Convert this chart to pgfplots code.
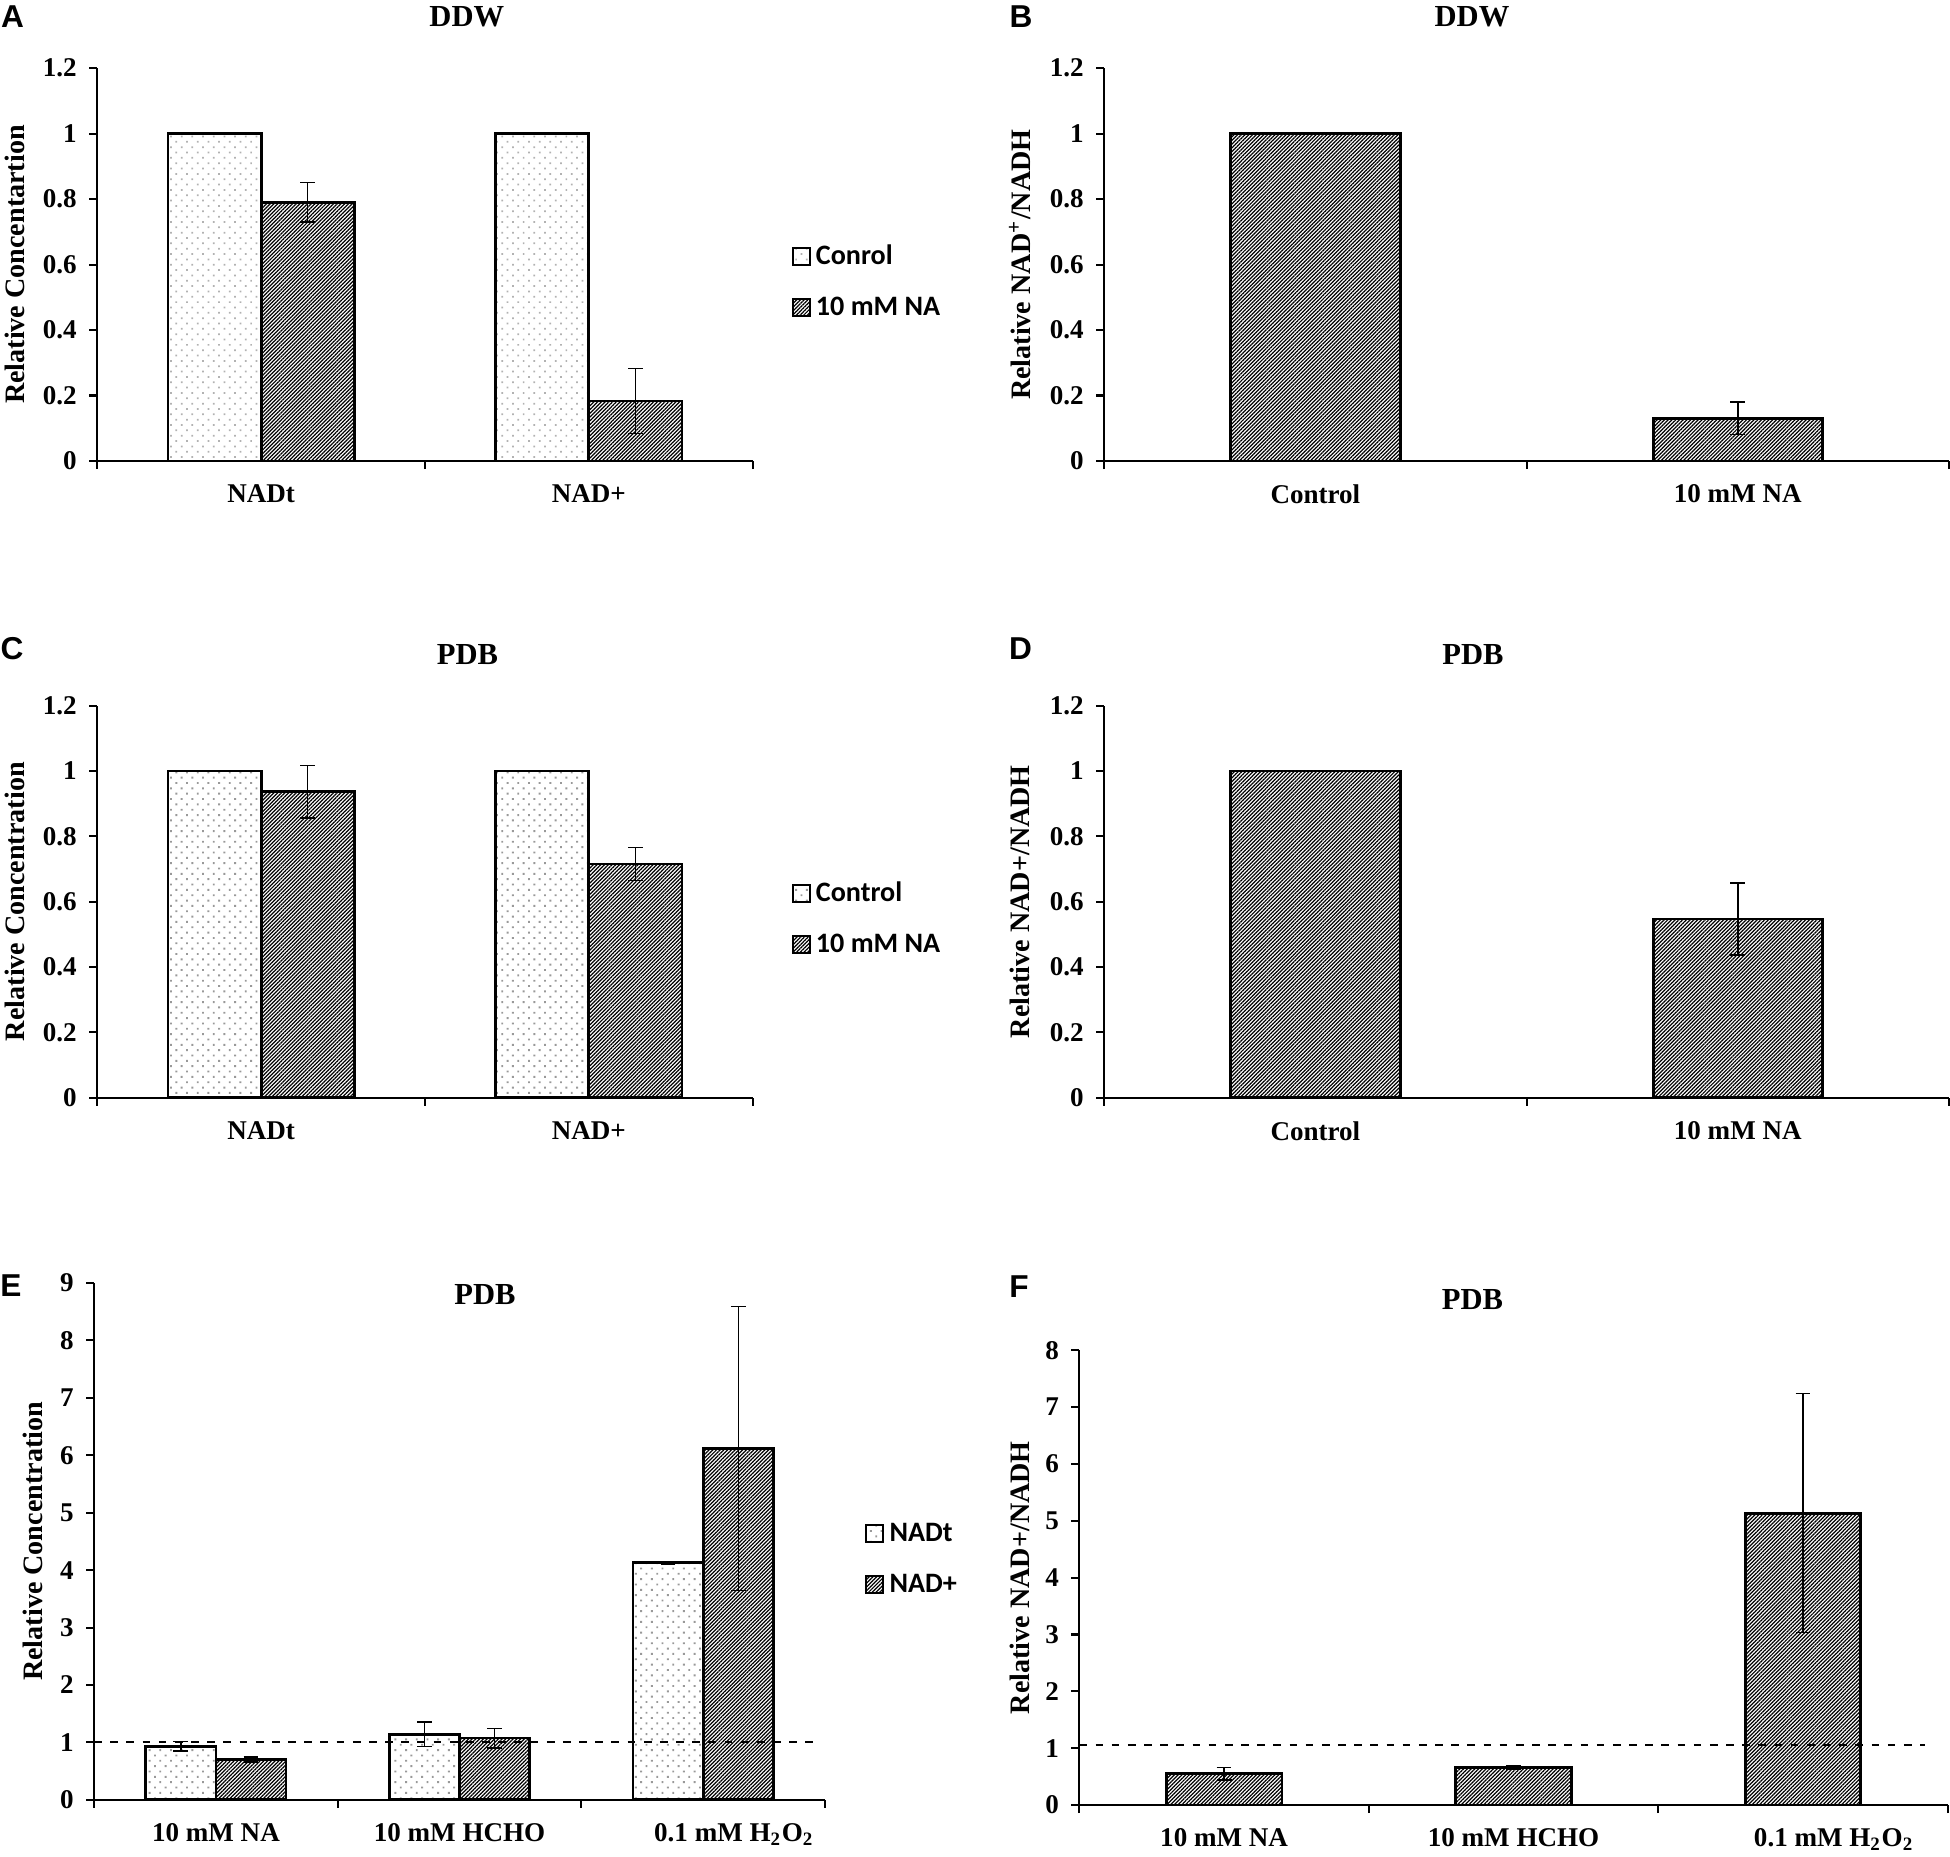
\documentclass[border=0pt]{standalone}
\usepackage{pgfplots}
\pgfplotsset{compat=1.18}
\usetikzlibrary{patterns.meta}
\usepackage{fontspec}
\setmainfont{Liberation Serif}
\newfontfamily\legfont{Carlito}
\newfontfamily\letfont{Liberation Sans}
\newcommand\tk{\bfseries\fontsize{7.7}{9}\selectfont}
\newcommand\ttl{\bfseries\fontsize{8.7}{10}\selectfont}
\newcommand\ylb{\bfseries\fontsize{8}{9.6}\selectfont}
\newcommand\lgf{\legfont\bfseries\fontsize{8}{9.6}\selectfont}
\newcommand\ltr{\letfont\bfseries\fontsize{9}{10}\selectfont}
\pgfplotsset{
  panel/.style={
    scale only axis, anchor=south west, clip=false,
    axis lines*=left,
    axis line style={line width=0.6pt},
    tick align=outside,
    major tick length=2.3pt,
    tick style={black, line width=0.6pt},
    ymin=0,
    ybar,
    /pgf/number format/assume math mode=true,
    tick label style={font=\tk},
    xticklabels={,,,,,},
    extra x tick style={major tick length=0pt, tick label style={yshift=-3.2pt}},
    title style={font=\ttl, anchor=center, yshift=-6pt},
    ylabel style={font=\ylb, anchor=center},
    legend image code/.code={\draw[##1, line width=0.6pt] (0cm,-0.085cm) rectangle (0.17cm,0.085cm);},
    legend cell align=left,
  },
  leg/.style 2 args={legend style={at={(axis description cs:#1,#2)}, anchor=west, draw=none, fill=none, inner sep=0pt, font=\lgf, row sep=5pt, nodes={inner sep=1pt, text height=6pt, text depth=1.5pt}, /tikz/every odd column/.append style={column sep=0.5pt}}},
  hatch/.style={draw=black, line width=0.8pt, pattern={Lines[angle=45,distance=0.75pt,line width=0.35pt]}, pattern color=black},
  dotsA/.style={draw=black, line width=0.8pt, pattern={Dots[distance=2.15pt,angle=45,radius=0.35pt]}, pattern color=gray!60},
  dotsC/.style={draw=black, line width=0.8pt, pattern={Dots[distance=2.15pt,angle=45,radius=0.38pt]}, pattern color=gray!80},
  eb/.style={error bars/.cd, y dir=both, y explicit, error bar style={line width=0.4pt, black}, error mark options={rotate=90, black, line width=0.4pt, mark size=2.1pt}},
  dline/.style={sharp plot, forget plot, black, line width=0.6pt, dash pattern=on 2.2pt off 2.4pt},
}
\begin{document}
\begin{tikzpicture}
\path[use as bounding box] (0,0) rectangle (19.5,18.57);

% ---------- A ----------
\begin{axis}[panel, at={(0.972cm,13.96cm)}, width=6.556cm, height=3.928cm,
  xmin=-0.5, xmax=1.5, ymax=1.2, ytick={0,0.2,0.4,0.6,0.8,1,1.2},
  xtick={-0.5,0.5,1.5}, extra x ticks={0,1}, extra x tick labels={NADt,NAD+},
  bar width=0.284,
  title={DDW}, title style={at={(axis description cs:0.5638,1.1314)}},
  ylabel={Relative Concentartion}, ylabel style={at={(axis description cs:-0.1254,0.5)}},
  leg={1.058}{0.455}]
\addplot[dotsA, bar shift=-0.142] coordinates {(0,1) (1,1)};
\addplot[hatch, bar shift=0.142, eb] coordinates {(0,0.79) +- (0,0.06) (1,0.183) +- (0,0.10)};
\legend{Conrol, 10 mM NA}
\end{axis}

% ---------- B ----------
\begin{axis}[panel, at={(11.042cm,13.96cm)}, width=8.448cm, height=3.928cm,
  xmin=-0.5, xmax=1.5, ymax=1.2, ytick={0,0.2,0.4,0.6,0.8,1,1.2},
  xtick={-0.5,0.5,1.5}, extra x ticks={0,1}, extra x tick labels={Control,10 mM NA},
  bar width=0.401,
  title={DDW}, title style={at={(axis description cs:0.4354,1.1314)}},
  ylabel={Relative NAD\textsuperscript{+}/NADH}, ylabel style={at={(axis description cs:-0.0997,0.5)}}]
\addplot[hatch, bar shift=0] coordinates {(0,1)};
\addplot[hatch, bar shift=0, eb] coordinates {(1,0.13) +- (0,0.05)};
\end{axis}

% ---------- C ----------
\begin{axis}[panel, at={(0.972cm,7.593cm)}, width=6.556cm, height=3.921cm,
  xmin=-0.5, xmax=1.5, ymax=1.2, ytick={0,0.2,0.4,0.6,0.8,1,1.2},
  xtick={-0.5,0.5,1.5}, extra x ticks={0,1}, extra x tick labels={NADt,NAD+},
  bar width=0.284,
  title={PDB}, title style={at={(axis description cs:0.5648,1.129)}},
  ylabel={Relative Concentration}, ylabel style={at={(axis description cs:-0.1254,0.5)}},
  leg={1.058}{0.455}]
\addplot[dotsC, bar shift=-0.142] coordinates {(0,1) (1,1)};
\addplot[hatch, bar shift=0.142, eb] coordinates {(0,0.936) +- (0,0.08) (1,0.715) +- (0,0.05)};
\legend{Control, 10 mM NA}
\end{axis}

% ---------- D ----------
\begin{axis}[panel, at={(11.042cm,7.593cm)}, width=8.448cm, height=3.921cm,
  xmin=-0.5, xmax=1.5, ymax=1.2, ytick={0,0.2,0.4,0.6,0.8,1,1.2},
  xtick={-0.5,0.5,1.5}, extra x ticks={0,1}, extra x tick labels={Control,10 mM NA},
  bar width=0.401,
  title={PDB}, title style={at={(axis description cs:0.4366,1.129)}},
  ylabel={Relative NAD+/NADH}, ylabel style={at={(axis description cs:-0.0997,0.5)}}]
\addplot[hatch, bar shift=0] coordinates {(0,1)};
\addplot[hatch, bar shift=0, eb] coordinates {(1,0.547) +- (0,0.11)};
\end{axis}

% ---------- E ----------
\begin{axis}[panel, at={(0.941cm,0.571cm)}, width=7.309cm, height=5.169cm,
  xmin=-0.5, xmax=2.5, ymax=9, ytick={0,1,2,3,4,5,6,7,8,9},
  xtick={-0.5,0.5,1.5,2.5}, extra x ticks={0,1,2},
  extra x tick labels={10 mM NA,10 mM HCHO,\hspace*{0.62cm}0.1 mM H\textsubscript{2}O\textsubscript{2}},
  bar width=0.288,
  title={PDB}, title style={at={(axis description cs:0.5348,0.9775)}},
  ylabel={Relative Concentration}, ylabel style={at={(axis description cs:-0.0836,0.5)}},
  leg={1.054}{0.4653}]
\addplot[dotsC, bar shift=-0.144, eb] coordinates {(0,0.934) +- (0,0.085) (1,1.144) +- (0,0.21) (2,4.128) +- (0,0.02)};
\addplot[hatch, bar shift=0.144, eb] coordinates {(0,0.704) +- (0,0.045) (1,1.076) +- (0,0.17) (2,6.117) +- (0,2.47)};
\addplot[dline] coordinates {(-0.5,1.015) (2.46,1.015)};
\legend{NADt, NAD+}
\end{axis}

% ---------- F ----------
\begin{axis}[panel, at={(10.794cm,0.52cm)}, width=8.683cm, height=4.547cm,
  xmin=-0.5, xmax=2.5, ymax=8, ytick={0,1,2,3,4,5,6,7,8},
  xtick={-0.5,0.5,1.5,2.5}, extra x ticks={0,1,2},
  extra x tick labels={10 mM NA,10 mM HCHO,\hspace*{0.62cm}0.1 mM H\textsubscript{2}O\textsubscript{2}},
  bar width=0.40,
  title={PDB}, title style={at={(axis description cs:0.4527,1.1115)}},
  ylabel={Relative NAD+/NADH}, ylabel style={at={(axis description cs:-0.0684,0.5)}}]
\addplot[hatch, bar shift=0, eb] coordinates {(0,0.547) +- (0,0.11) (1,0.656) +- (0,0.035) (2,5.135) +- (0,2.1)};
\addplot[dline] coordinates {(-0.5,1.06) (2.42,1.06)};
\end{axis}

% panel letters
\node[font=\ltr] at (0.125,18.404) {A};
\node[font=\ltr] at (10.21,18.404) {B};
\node[font=\ltr] at (0.12,12.08) {C};
\node[font=\ltr] at (10.205,12.08) {D};
\node[font=\ltr] at (0.11,5.71) {E};
\node[font=\ltr] at (10.19,5.70) {F};
\end{tikzpicture}
\end{document}
